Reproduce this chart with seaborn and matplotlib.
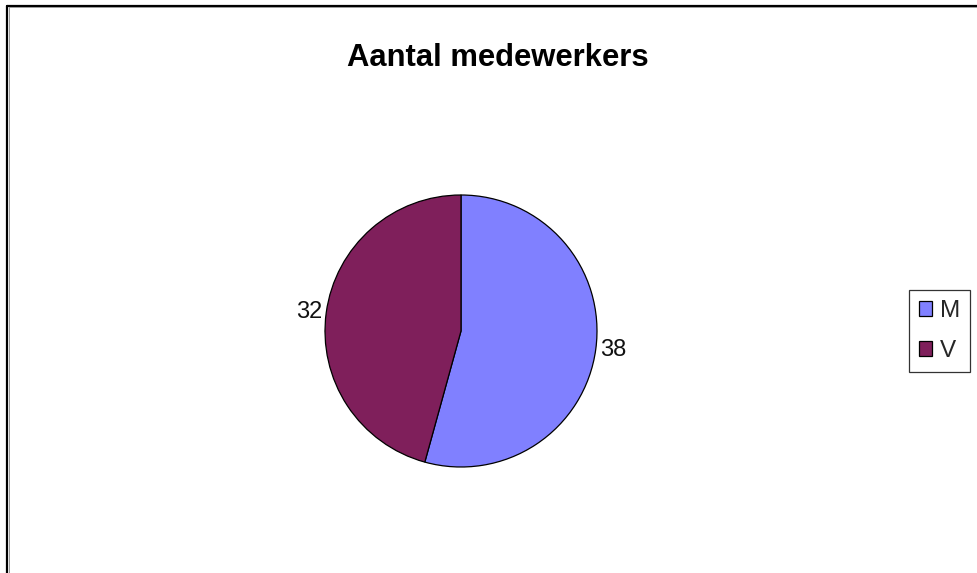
import matplotlib
matplotlib.use("Agg")
import matplotlib.pyplot as plt
import seaborn as sns
from matplotlib.lines import Line2D

categories = ["M", "V"]
values = [38, 32]
colors = ["#8080FF", "#7F1F5B"]
title = "Aantal medewerkers"

sns.set_theme(style="white")
plt.rcParams["font.family"] = ["Liberation Sans", "DejaVu Sans"]

W, H = 978, 573
fig = plt.figure(figsize=(W / 100, H / 100), dpi=100)
fig.patch.set_facecolor("white")

cx, cy, r = 461, 331, 136
ax = fig.add_axes([(cx - r) / W, (H - cy - r) / H, 2 * r / W, 2 * r / H])
wedges, texts = ax.pie(
    values,
    labels=[str(v) for v in values],
    colors=colors,
    startangle=90,
    counterclock=False,
    labeldistance=1.03,
    wedgeprops=dict(edgecolor="black", linewidth=0.9),
    textprops=dict(fontsize=17, color="#111111"),
)
ax.set_xlim(-1, 1)
ax.set_ylim(-1, 1)
ax.set_aspect("equal")
ax.axis("off")

fig.text(497.5 / W, 1 - 57.5 / H, title, ha="center", va="center",
         fontsize=22.3, fontweight="bold", color="black")

leg = fig.legend(wedges, categories, loc="center",
                 bbox_to_anchor=(939.5 / W, 1 - 331 / H),
                 fontsize=17.5, frameon=True, fancybox=False,
                 handlelength=0.55, handleheight=0.55, handletextpad=0.3,
                 labelspacing=0.75, borderpad=0.4, borderaxespad=0)
leg.get_frame().set_edgecolor("black")
leg.get_frame().set_linewidth(0.9)

# outer frame (cut off at right and bottom)
fig.add_artist(Line2D([7.5 / W, 7.5 / W], [0, 1 - 5.5 / H], transform=fig.transFigure,
                      color="black", linewidth=1.6))
fig.add_artist(Line2D([7.5 / W, 1], [1 - 5.5 / H, 1 - 5.5 / H], transform=fig.transFigure,
                      color="black", linewidth=1.6))
fig.add_artist(Line2D([9 / W, 9 / W], [0, 1 - 7 / H], transform=fig.transFigure,
                      color="#999999", linewidth=0.7))
fig.add_artist(Line2D([9 / W, 1], [1 - 7 / H, 1 - 7 / H], transform=fig.transFigure,
                      color="#999999", linewidth=0.7))

fig.savefig("out.png", dpi=100, facecolor="white")
